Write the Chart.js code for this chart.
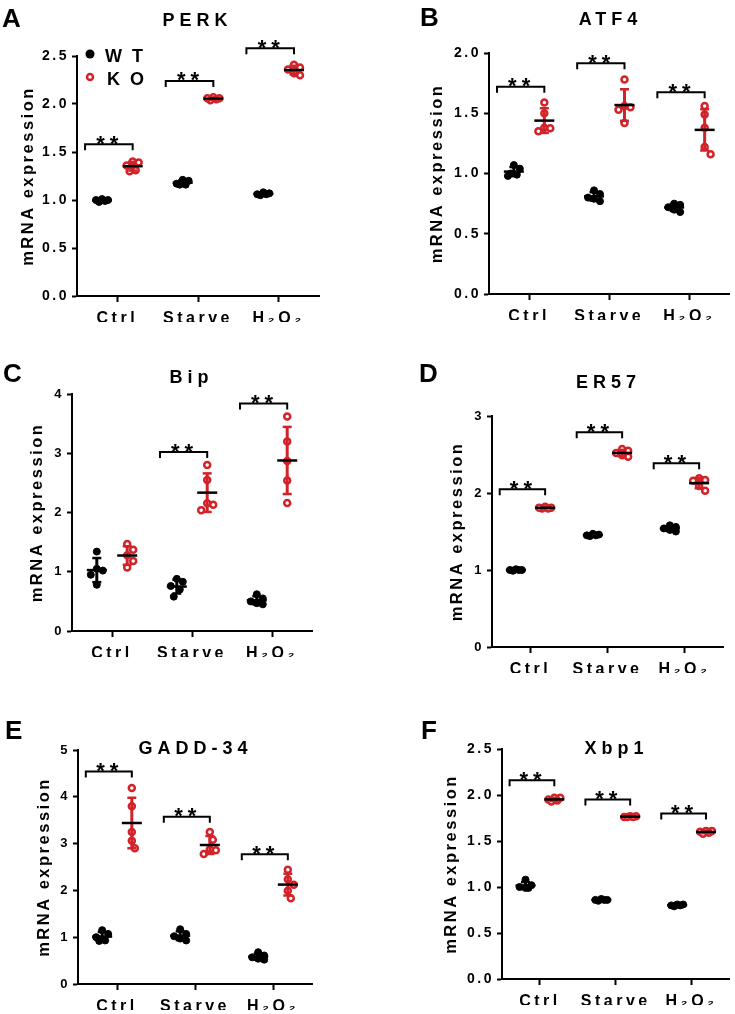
<!DOCTYPE html>
<html><head><meta charset="utf-8">
<script src="https://cdn.jsdelivr.net/npm/chart.js@4.4.1/dist/chart.umd.min.js"></script>
<style>
html,body{margin:0;padding:0;background:#fff;}
#wrap{position:relative;width:735px;height:1014px;overflow:hidden;background:#fff;}
canvas{position:absolute;}
.lbl{position:absolute;font-family:"Liberation Sans",Arial,Helvetica,sans-serif;font-weight:bold;color:#000;line-height:1;white-space:nowrap;}
.letter{font-size:26px;}
.ttl{font-size:18px;letter-spacing:5px;transform:translate(-50%,-50%);}
</style></head><body><div id="wrap"></div>
<script>
// ---------- DATA ----------
const CATEGORIES = ['Ctrl', 'Starve', 'H₂O₂'];
const Y_LABEL = 'mRNA expression';
const SERIES = ['WT', 'KO'];

const PERK_WT = [[1.00, 1.01, 0.99, 1.00, 0.98], [1.21, 1.20, 1.17, 1.16, 1.16], [1.08, 1.07, 1.06, 1.05, 1.06]];
const PERK_KO = [[1.40, 1.39, 1.36, 1.30, 1.31], [2.07, 2.06, 2.05, 2.04, 2.06], [2.41, 2.38, 2.36, 2.32, 2.30]];
const PERK_SIG = [1.58, 2.24, 2.58];

const ATF4_WT = [[1.07, 1.04, 1.00, 0.98, 0.99], [0.86, 0.83, 0.80, 0.77, 0.79], [0.75, 0.74, 0.72, 0.70, 0.68]];
const ATF4_KO = [[1.59, 1.50, 1.38, 1.375, 1.35], [1.78, 1.56, 1.55, 1.53, 1.42], [1.56, 1.49, 1.38, 1.22, 1.16]];
const ATF4_SIG = [1.72, 1.915, 1.675];

const BIP_WT = [[1.34, 1.05, 1.02, 0.95, 0.78], [0.88, 0.83, 0.76, 0.70, 0.58], [0.62, 0.55, 0.50, 0.47, 0.45]];
const BIP_KO = [[1.47, 1.37, 1.28, 1.18, 1.07], [2.80, 2.55, 2.155, 2.13, 2.04], [3.62, 3.20, 2.87, 2.54, 2.16]];
const BIP_SIG = [null, 3.02, 3.84];

const ER57_WT = [[1.01, 1.00, 1.00, 0.99, 1.00], [1.47, 1.46, 1.45, 1.44, 1.45], [1.58, 1.56, 1.54, 1.52, 1.50]];
const ER57_KO = [[1.82, 1.81, 1.80, 1.80, 1.81], [2.57, 2.55, 2.52, 2.49, 2.47], [2.19, 2.17, 2.16, 2.09, 2.03]];
const ER57_SIG = [2.05, 2.79, 2.385];

const GADD_WT = [[1.15, 1.07, 1.00, 0.93, 0.92], [1.17, 1.07, 1.02, 0.97, 0.93], [0.68, 0.61, 0.57, 0.54, 0.52]];
const GADD_KO = [[4.19, 3.80, 3.25, 3.06, 2.90], [3.25, 3.08, 2.88, 2.86, 2.78], [2.44, 2.24, 2.12, 1.99, 1.83]];
const GADD_SIG = [4.54, 3.575, 2.77];

const XBP1_WT = [[1.08, 1.02, 1.00, 0.99, 0.99], [0.87, 0.86, 0.86, 0.85, 0.86], [0.81, 0.81, 0.80, 0.79, 0.80]];
const XBP1_KO = [[1.97, 1.97, 1.95, 1.94, 1.93], [1.77, 1.77, 1.76, 1.76, 1.76], [1.61, 1.61, 1.60, 1.59, 1.58]];
const XBP1_SIG = [2.16, 1.95, 1.80];

// ---------- STYLE / LAYOUT ----------
const FONT = "'Liberation Sans', Arial, Helvetica, sans-serif";
const RED = '#d2232a';
const GROUP_OFF = 0.19;   // WT/KO offset from category centre (category units)
const X_AXIS_H = 26;

const PANELS = [
  {title: 'PERK', letter: 'A', wt: PERK_WT, ko: PERK_KO, sig: PERK_SIG, yMax: 2.5, step: 0.5, dec: 1, tick: 14,
   box: {x: 0, y: 0, w: 367, h: 350}, area: {l: 77, t: 56, r: 319, b: 296}, yTitleX: 28,
   titlePos: [195, 19.5], letterPos: [2, 4.6], legend: true},
  {title: 'ATF4', letter: 'B', wt: ATF4_WT, ko: ATF4_KO, sig: ATF4_SIG, yMax: 2.0, step: 0.5, dec: 1, tick: 14,
   box: {x: 367, y: 0, w: 368, h: 350}, area: {l: 122, t: 53, r: 364, b: 294}, yTitleX: 70,
   titlePos: [608, 19], letterPos: [420, 3.6]},
  {title: 'Bip', letter: 'C', wt: BIP_WT, ko: BIP_KO, sig: BIP_SIG, yMax: 4, step: 1, dec: 0, tick: 13,
   box: {x: 0, y: 335, w: 367, h: 355}, area: {l: 72, t: 59, r: 312, b: 296}, yTitleX: 37,
   titlePos: [189, 377], letterPos: [3, 359.6]},
  {title: 'ER57', letter: 'D', wt: ER57_WT, ko: ER57_KO, sig: ER57_SIG, yMax: 3, step: 1, dec: 0, tick: 13,
   box: {x: 367, y: 335, w: 368, h: 355}, area: {l: 125, t: 81, r: 356, b: 312}, yTitleX: 90,
   titlePos: [606, 382], letterPos: [419, 359.6]},
  {title: 'GADD-34', letter: 'E', wt: GADD_WT, ko: GADD_KO, sig: GADD_SIG, yMax: 5, step: 1, dec: 0, tick: 13,
   box: {x: 0, y: 670, w: 367, h: 344}, area: {l: 78, t: 80, r: 312, b: 314}, yTitleX: 44,
   titlePos: [193, 748], letterPos: [5, 716.6]},
  {title: 'Xbp1', letter: 'F', wt: XBP1_WT, ko: XBP1_KO, sig: XBP1_SIG, yMax: 2.5, step: 0.5, dec: 1, tick: 14,
   box: {x: 367, y: 670, w: 368, h: 344}, area: {l: 135, t: 79, r: 365, b: 309}, yTitleX: 84,
   titlePos: [614, 748], letterPos: [421, 716.6]}
];

const wrap = document.getElementById('wrap');

function mean(a) { return a.reduce((s, v) => s + v, 0) / a.length; }
function sd(a) { const m = mean(a); return Math.sqrt(a.reduce((s, v) => s + (v - m) * (v - m), 0) / (a.length - 1)); }

// simple deterministic beeswarm: horizontal offsets so dots don't sit on each other
function swarm(vals, pxU, pxC) {
  const order = vals.map((v, i) => i).sort((a, b) => vals[b] - vals[a]);
  const placed = [], out = new Array(vals.length);
  const MIN = 8, STEP = 3, CANDS = [0, 1, -1, 2, -2];
  for (const i of order) {
    let best = 0, bestD = -1;
    for (const c of CANDS) {
      const dx = c * STEP;
      let d = Infinity;
      for (const p of placed) d = Math.min(d, Math.hypot(p.dx - dx, (p.v - vals[i]) * pxU));
      if (d >= MIN) { best = dx; bestD = d; break; }
      if (d > bestD) { bestD = d; best = dx; }
    }
    placed.push({dx: best, v: vals[i]});
    out[i] = best / pxC;
  }
  return out;
}

function line(ctx, x1, y1, x2, y2) { ctx.beginPath(); ctx.moveTo(x1, y1); ctx.lineTo(x2, y2); ctx.stroke(); }

function makePanel(cfg) {
  const cv = document.createElement('canvas');
  cv.width = cfg.box.w; cv.height = cfg.box.h;
  cv.style.left = cfg.box.x + 'px'; cv.style.top = cfg.box.y + 'px';
  cv.style.width = cfg.box.w + 'px'; cv.style.height = cfg.box.h + 'px';
  wrap.appendChild(cv);

  // HTML labels
  const lt = document.createElement('div');
  lt.className = 'lbl letter'; lt.textContent = cfg.letter;
  lt.style.left = cfg.letterPos[0] + 'px'; lt.style.top = cfg.letterPos[1] + 'px';
  wrap.appendChild(lt);
  const tt = document.createElement('div');
  tt.className = 'lbl ttl'; tt.textContent = cfg.title;
  tt.style.left = (cfg.titlePos[0] + 2.5) + 'px'; tt.style.top = cfg.titlePos[1] + 'px';
  wrap.appendChild(tt);

  const A = cfg.area;
  const Y_TITLE_SIZE = 16.5;
  const padLeft = cfg.yTitleX - Y_TITLE_SIZE * 0.6;
  const pxU = (A.b - A.t) / cfg.yMax, pxC = (A.r - A.l) / CATEGORIES.length;

  const build = (groups, side) => {
    const pts = [];
    groups.forEach((vals, ci) => {
      const off = swarm(vals, pxU, pxC);
      vals.forEach((v, k) => pts.push({x: ci + 0.5 + side * GROUP_OFF + off[k], y: v}));
    });
    return pts;
  };

  const spacing = {
    id: 'spacing',
    beforeLayout(chart) { chart.ctx.letterSpacing = '2.5px'; },
    beforeDraw(chart) { chart.ctx.letterSpacing = '2.5px'; }
  };

  const decor = {
    id: 'decor',
    afterDatasetsDraw(chart) {
      const ctx = chart.ctx, xs = chart.scales.x, ys = chart.scales.y;
      ctx.save();
      ctx.lineCap = 'butt';
      [[cfg.wt, -1, '#000'], [cfg.ko, 1, RED]].forEach(([groups, side, color]) => {
        groups.forEach((vals, ci) => {
          const m = mean(vals), s = sd(vals);
          const cx = xs.getPixelForValue(ci + 0.5 + side * GROUP_OFF);
          const yTop = ys.getPixelForValue(m + s), yBot = ys.getPixelForValue(m - s), yM = ys.getPixelForValue(m);
          ctx.strokeStyle = color;
          ctx.lineWidth = 3;
          line(ctx, cx, yTop, cx, yBot);
          ctx.lineWidth = 2.5;
          line(ctx, cx - 4.5, yTop, cx + 4.5, yTop);
          line(ctx, cx - 4.5, yBot, cx + 4.5, yBot);
          ctx.strokeStyle = '#000';
          ctx.lineWidth = 2.5;
          line(ctx, cx - 10, yM, cx + 10, yM);
        });
      });
      // significance brackets
      ctx.strokeStyle = '#000'; ctx.fillStyle = '#000'; ctx.lineWidth = 2;
      cfg.sig.forEach((v, ci) => {
        if (v === null) return;
        const y = ys.getPixelForValue(v);
        const x1 = xs.getPixelForValue(ci + 0.5 - 0.40), x2 = xs.getPixelForValue(ci + 0.5 + GROUP_OFF);
        ctx.beginPath(); ctx.moveTo(x1, y + 6); ctx.lineTo(x1, y); ctx.lineTo(x2, y); ctx.lineTo(x2, y + 6); ctx.stroke();
        ctx.font = 'bold 22px ' + FONT;
        ctx.letterSpacing = '5px';
        ctx.textAlign = 'center'; ctx.textBaseline = 'alphabetic';
        ctx.fillText('**', (x1 + x2) / 2 + 1, y + 6.5);
      });
      ctx.restore();
      ctx.letterSpacing = '3.5px';   // for x tick labels drawn next
    },
    afterDraw(chart) {
      if (!cfg.legend) return;
      const ctx = chart.ctx;
      ctx.save();
      ctx.fillStyle = '#000';
      ctx.beginPath(); ctx.arc(90, 54, 4.5, 0, Math.PI * 2); ctx.fill();
      ctx.strokeStyle = RED; ctx.lineWidth = 2.5; ctx.fillStyle = '#fff';
      ctx.beginPath(); ctx.arc(90, 77, 3, 0, Math.PI * 2); ctx.fill(); ctx.stroke();
      ctx.fillStyle = '#000';
      ctx.font = 'bold 18px ' + FONT;
      ctx.letterSpacing = '10px';
      ctx.textAlign = 'left'; ctx.textBaseline = 'middle';
      ctx.fillText(SERIES[0], 105, 57);
      ctx.fillText(SERIES[1], 107, 80);
      ctx.restore();
    }
  };

  const axisGrid = (len) => ({drawOnChartArea: false, drawTicks: true, tickLength: len, tickWidth: 2, tickColor: '#000'});

  new Chart(cv, {
    type: 'scatter',
    data: {
      datasets: [
        {label: SERIES[0], data: build(cfg.wt, -1), pointStyle: 'circle', pointRadius: 3.5, pointHoverRadius: 3.5,
         pointBackgroundColor: '#000', pointBorderColor: '#000', pointBorderWidth: 1},
        {label: SERIES[1], data: build(cfg.ko, 1), pointStyle: 'circle', pointRadius: 3, pointHoverRadius: 3,
         pointBackgroundColor: '#fff', pointBorderColor: RED, pointBorderWidth: 2.5}
      ]
    },
    options: {
      responsive: false, animation: false, events: [],
      layout: {padding: {left: padLeft, top: A.t, right: cfg.box.w - A.r, bottom: cfg.box.h - A.b - X_AXIS_H}},
      plugins: {legend: {display: false}, tooltip: {enabled: false}, title: {display: false}},
      scales: {
        x: {
          type: 'linear', min: 0, max: CATEGORIES.length,
          afterBuildTicks: s => { s.ticks = CATEGORIES.map((c, i) => ({value: i + 0.5})); },
          afterFit: s => { s.height = X_AXIS_H; },
          ticks: {z: 1, callback: v => CATEGORIES[Math.floor(v)], autoSkip: false, maxRotation: 0, minRotation: 0,
                  padding: 7, color: '#000', font: {family: FONT, size: 16, weight: 'bold'}},
          grid: axisGrid(6),
          border: {display: true, color: '#000', width: 2}
        },
        y: {
          type: 'linear', min: 0, max: cfg.yMax,
          afterFit: s => { s.width = A.l - padLeft; },
          ticks: {stepSize: cfg.step, callback: v => v.toFixed(cfg.dec), padding: 3, color: '#000',
                  font: {family: FONT, size: cfg.tick, weight: 'bold'}},
          title: {display: true, text: Y_LABEL, padding: 0, color: '#000',
                  font: {family: FONT, size: Y_TITLE_SIZE, weight: 'bold', lineHeight: 1.2}},
          grid: axisGrid(5),
          border: {display: true, color: '#000', width: 2}
        }
      }
    },
    plugins: [spacing, decor]
  });
}

PANELS.forEach(makePanel);
</script>
</body></html>
